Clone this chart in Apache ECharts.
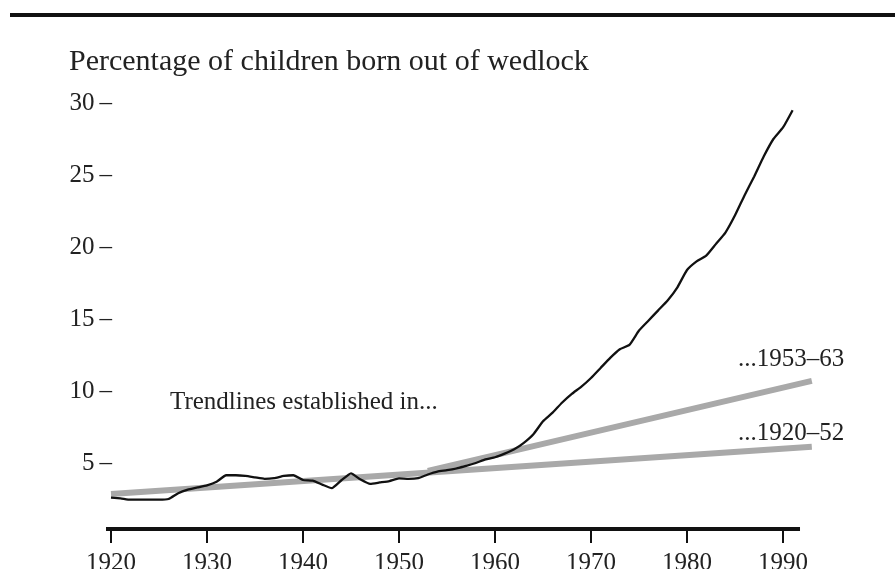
<!DOCTYPE html>
<html>
<head>
<meta charset="utf-8">
<script src="https://cdn.jsdelivr.net/npm/echarts@6/dist/echarts.min.js"></script>
<style>
html,body{margin:0;padding:0;background:#fff;}
#chart{width:895px;height:569px;}
</style>
</head>
<body>
<div id="chart"></div>
<script>
// ---- Data ----
const years = [1920,1921,1922,1923,1924,1925,1926,1927,1928,1929,
               1930,1931,1932,1933,1934,1935,1936,1937,1938,1939,
               1940,1941,1942,1943,1944,1945,1946,1947,1948,1949,
               1950,1951,1952,1953,1954,1955,1956,1957,1958,1959,
               1960,1961,1962,1963,1964,1965,1966,1967,1968,1969,
               1970,1971,1972,1973,1974,1975,1976,1977,1978,1979,
               1980,1981,1982,1983,1984,1985,1986,1987,1988,1989,
               1990,1991];
const outOfWedlockPct = [2.6,2.55,2.45,2.45,2.45,2.45,2.5,2.9,3.15,3.3,
               3.45,3.7,4.15,4.15,4.1,4.0,3.9,3.95,4.1,4.15,
               3.82,3.77,3.5,3.25,3.8,4.28,3.85,3.55,3.65,3.75,
               3.93,3.9,3.95,4.2,4.4,4.5,4.63,4.8,5.0,5.25,
               5.4,5.65,5.95,6.4,7.0,7.9,8.5,9.2,9.8,10.3,
               10.9,11.6,12.3,12.9,13.2,14.2,14.9,15.6,16.3,17.2,
               18.4,19.0,19.4,20.2,21.0,22.2,23.6,24.9,26.3,27.5,
               28.3,29.5];
const trend1920_52_years = [1920, 1993];
const trend1920_52_vals  = [2.85, 6.13];
const trend1953_63_years = [1953, 1993];
const trend1953_63_vals  = [4.45, 10.7];
const xTicks = [1920,1930,1940,1950,1960,1970,1980,1990];
const yTicks = [5,10,15,20,25,30];
const titleText = 'Percentage of children born out of wedlock';
const noteText = 'Trendlines established in...';
const trendLabels = ['...1953\u201363', '...1920\u201352'];

// ---- Chart ----
const FONT = '"Liberation Serif","DejaVu Serif",serif';
const X_MIN = 1919.48, X_MAX = 1993.3, X_AXIS_END = 1991.77;
const Y_MIN = 0.417, Y_MAX = 30.555;
const zip = (xs, ys) => xs.map((x, i) => [x, ys[i]]);
const chart = echarts.init(document.getElementById('chart'), null, {renderer: 'canvas'});
chart.setOption({
  backgroundColor: '#ffffff',
  animation: false,
  title: {
    text: titleText, left: 64, top: 42,
    textStyle: {fontFamily: FONT, fontSize: 30, fontWeight: 'normal', color: '#222'}
  },
  grid: {left: 106, right: 80.3, top: 95, bottom: 40, containLabel: false, outerBoundsMode: 'none'},
  xAxis: {
    type: 'value', min: X_MIN, max: X_MAX,
    axisLine: {show: false},
    axisTick: {show: true, customValues: xTicks, length: 14, lineStyle: {color: '#111', width: 2}},
    axisLabel: {customValues: xTicks, fontFamily: FONT, fontSize: 25, color: '#222', margin: 22,
                formatter: v => String(v)},
    splitLine: {show: false}
  },
  yAxis: {
    type: 'value', min: Y_MIN, max: Y_MAX,
    axisLine: {show: false}, axisTick: {show: false}, splitLine: {show: false},
    axisLabel: {customValues: yTicks, fontFamily: FONT, fontSize: 25, color: '#222', margin: -6,
                formatter: v => v + '\u2009\u2013'}
  },
  graphic: [
    {type: 'line', shape: {x1: 10, y1: 15, x2: 895, y2: 15}, style: {stroke: '#111', lineWidth: 4}},
    {type: 'text', left: 170, top: 390, style: {text: noteText, font: '25px ' + FONT, fill: '#222'}},
    {type: 'text', left: 738, top: 347, style: {text: trendLabels[0], font: '25px ' + FONT, fill: '#222'}},
    {type: 'text', left: 738, top: 421, style: {text: trendLabels[1], font: '25px ' + FONT, fill: '#222'}}
  ],
  series: [
    {type: 'line', data: zip(trend1920_52_years, trend1920_52_vals), showSymbol: false,
     lineStyle: {color: '#a9a9a9', width: 6}, z: 1},
    {type: 'line', data: zip(trend1953_63_years, trend1953_63_vals), showSymbol: false,
     lineStyle: {color: '#a9a9a9', width: 6}, z: 1},
    {type: 'line', data: zip(years, outOfWedlockPct), showSymbol: false, smooth: 0.15,
     lineStyle: {color: '#111', width: 2.3}, z: 3,
     markLine: {
       silent: true, symbol: 'none', animation: false,
       label: {show: false},
       lineStyle: {color: '#111', width: 4, type: 'solid'},
       data: [[{coord: [X_MIN, Y_MIN]}, {coord: [X_AXIS_END, Y_MIN]}]]
     }}
  ]
});
</script>
</body>
</html>
